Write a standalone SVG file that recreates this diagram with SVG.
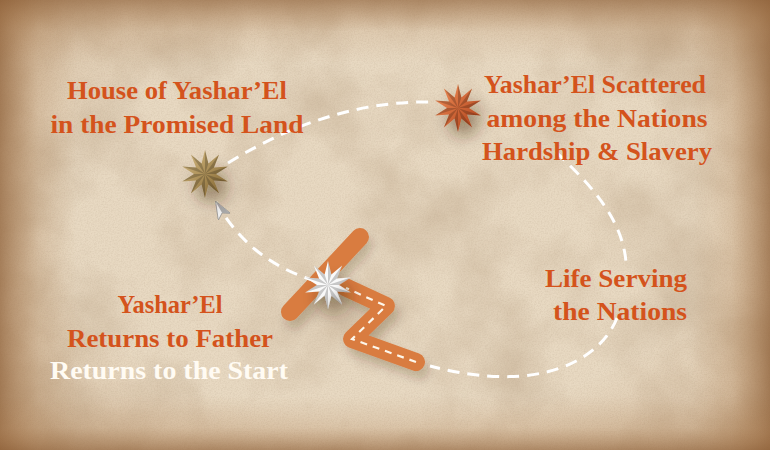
<svg xmlns="http://www.w3.org/2000/svg" xmlns:xlink="http://www.w3.org/1999/xlink" width="770" height="450" viewBox="0 0 770 450">
  <style>
    .lbl { font-family: "Liberation Serif", "DejaVu Serif", serif; font-weight: bold; font-size: 26px; fill: #d4531c; text-anchor: middle; }
    .lbl-w { fill: #fffbf3; }
    .route { fill: none; stroke: #ffffff; stroke-width: 3; stroke-dasharray: 12 8; stroke-linecap: butt; }
    .route-thin { fill: none; stroke: #fdf6ea; stroke-width: 2.2; stroke-dasharray: 7 6; }
    .bar { fill: none; stroke: #d97c40; stroke-width: 18; stroke-linecap: round; stroke-linejoin: round; }
  </style>
  <defs>
    <radialGradient id="vignette" cx="50%" cy="50%" r="72%">
      <stop offset="0.6" stop-color="#a9784a" stop-opacity="0"/>
      <stop offset="1" stop-color="#8a5c33" stop-opacity="0.35"/>
    </radialGradient>
    <linearGradient id="hEdge" x1="0" y1="0" x2="1" y2="0">
      <stop offset="0" stop-color="#8e5f36" stop-opacity="0.7"/>
      <stop offset="0.05" stop-color="#a9784a" stop-opacity="0.2"/>
      <stop offset="0.1" stop-color="#a9784a" stop-opacity="0"/>
      <stop offset="0.9" stop-color="#a9784a" stop-opacity="0"/>
      <stop offset="0.95" stop-color="#a9784a" stop-opacity="0.22"/>
      <stop offset="1" stop-color="#8e5f36" stop-opacity="0.7"/>
    </linearGradient>
    <linearGradient id="vEdge" x1="0" y1="0" x2="0" y2="1">
      <stop offset="0" stop-color="#8e5f36" stop-opacity="0.6"/>
      <stop offset="0.07" stop-color="#a9784a" stop-opacity="0.15"/>
      <stop offset="0.14" stop-color="#a9784a" stop-opacity="0"/>
      <stop offset="0.88" stop-color="#a9784a" stop-opacity="0"/>
      <stop offset="0.95" stop-color="#a9784a" stop-opacity="0.2"/>
      <stop offset="1" stop-color="#8e5f36" stop-opacity="0.6"/>
    </linearGradient>
    <filter id="paperNoise" x="0" y="0" width="100%" height="100%">
      <feTurbulence type="fractalNoise" baseFrequency="0.011" numOctaves="5" seed="7" result="n"/>
      <feColorMatrix in="n" type="matrix" values="0 0 0 0 0.45  0 0 0 0 0.32  0 0 0 0 0.2  0.9 0 0 0 -0.36"/>
    </filter>
    <filter id="paperGrain" x="0" y="0" width="100%" height="100%">
      <feTurbulence type="fractalNoise" baseFrequency="0.7" numOctaves="2" seed="2" result="g"/>
      <feColorMatrix in="g" type="matrix" values="0 0 0 0 0.4  0 0 0 0 0.3  0 0 0 0 0.2  0.6 0 0 0 -0.22"/>
    </filter>
    <filter id="shadow" x="-80%" y="-80%" width="260%" height="260%">
      <feGaussianBlur in="SourceAlpha" stdDeviation="7"/>
      <feOffset dx="6" dy="12" result="b"/>
      <feFlood flood-color="#3a2410" flood-opacity="0.4"/>
      <feComposite in2="b" operator="in" result="s"/>
      <feMerge><feMergeNode in="s"/><feMergeNode in="SourceGraphic"/></feMerge>
    </filter>
    <filter id="barShadow" x="-30%" y="-30%" width="160%" height="160%">
      <feGaussianBlur in="SourceAlpha" stdDeviation="5"/>
      <feOffset dx="4" dy="8" result="b"/>
      <feFlood flood-color="#3a2410" flood-opacity="0.22"/>
      <feComposite in2="b" operator="in" result="s"/>
      <feMerge><feMergeNode in="s"/><feMergeNode in="SourceGraphic"/></feMerge>
    </filter>
    <linearGradient id="gold" x1="0" y1="0" x2="1" y2="1">
      <stop offset="0" stop-color="#d9bf86"/>
      <stop offset="1" stop-color="#7a5c28"/>
    </linearGradient>
    <linearGradient id="rust" x1="0" y1="0" x2="1" y2="1">
      <stop offset="0" stop-color="#f5935c"/>
      <stop offset="1" stop-color="#a83a14"/>
    </linearGradient>
    <linearGradient id="silver" x1="0" y1="0" x2="1" y2="1">
      <stop offset="0" stop-color="#ffffff"/>
      <stop offset="0.6" stop-color="#f8f8f8"/>
      <stop offset="1" stop-color="#a6a6a6"/>
    </linearGradient>
    <g id="star">
      <path d="M0 -24L3.4 -10.46L14.11 -19.42L8.9 -6.47L22.83 -7.42L11 0L22.83 7.42L8.9 6.47L14.11 19.42L3.4 10.46L0 24L-3.4 10.46L-14.11 19.42L-8.9 6.47L-22.83 7.42L-11 0L-22.83 -7.42L-8.9 -6.47L-14.11 -19.42L-3.4 -10.46Z"/>
      <path fill="#000000" fill-opacity="0.2" d="M0 0L0 -24L3.4 -10.46ZM0 0L14.11 -19.42L8.9 -6.47ZM0 0L22.83 -7.42L11 0ZM0 0L22.83 7.42L8.9 6.47ZM0 0L14.11 19.42L3.4 10.46ZM0 0L0 24L-3.4 10.46ZM0 0L-14.11 19.42L-8.9 6.47ZM0 0L-22.83 7.42L-11 0ZM0 0L-22.83 -7.42L-8.9 -6.47ZM0 0L-14.11 -19.42L-3.4 -10.46Z"/>
    </g>
    <marker id="arrow" viewBox="0 0 18 14" refX="17" refY="7" markerWidth="18" markerHeight="14" markerUnits="userSpaceOnUse" orient="auto">
      <path d="M0 0L18 7L0 14L4.5 7Z" fill="#f2f2f2" stroke="#8c8c8c" stroke-width="0.7" stroke-linejoin="round"/>
      <path d="M18 7L0 14L4.5 7Z" fill="#a9a9a9"/>
    </marker>
  </defs>

  <!-- parchment background -->
  <rect x="0" y="0" width="770" height="450" fill="#e8d9c2"/>
  <rect x="0" y="0" width="770" height="450" filter="url(#paperNoise)"/>
  <rect x="0" y="0" width="770" height="450" filter="url(#paperGrain)" opacity="0.6"/>
  <rect x="0" y="0" width="770" height="450" fill="url(#vignette)"/>
  <rect x="0" y="0" width="770" height="450" fill="url(#hEdge)"/>
  <rect x="0" y="0" width="770" height="450" fill="url(#vEdge)"/>

  <!-- orange road under the return star -->
  <g id="road" filter="url(#barShadow)">
    <path class="bar" d="M290 312L360 237"/>
    <path class="bar" d="M345 287L386 306L352 339L416 362"/>
  </g>

  <g id="connectors">
    <path class="route" d="M228 163Q330 100 433 102"/>
    <path class="route" d="M556 152C585 180 622 215 626 262"/>
    <path class="route" d="M617 318C600 360 540 395 430 366"/>
    <path class="route-thin" d="M416 362L352 339L386 306L346 288"/>
    <path class="route" d="M316 281Q250 262 216 202" marker-end="url(#arrow)"/>
  </g>

  <g id="node-land">
    <use href="#star" xlink:href="#star" x="205" y="174" fill="url(#gold)" filter="url(#shadow)"/>
    <text class="lbl" x="177" y="99" textLength="220" lengthAdjust="spacingAndGlyphs">House of Yashar’El</text>
    <text class="lbl" x="177" y="133" textLength="253" lengthAdjust="spacingAndGlyphs">in the Promised Land</text>
  </g>

  <g id="node-scattered">
    <use href="#star" xlink:href="#star" x="458" y="108" fill="url(#rust)" filter="url(#shadow)"/>
    <text class="lbl" x="595" y="93" textLength="222" lengthAdjust="spacingAndGlyphs">Yashar’El Scattered</text>
    <text class="lbl" x="597" y="127" textLength="221" lengthAdjust="spacingAndGlyphs">among the Nations</text>
    <text class="lbl" x="597" y="160" textLength="230" lengthAdjust="spacingAndGlyphs">Hardship &amp; Slavery</text>
  </g>

  <g id="node-serving">
    <text class="lbl" x="616" y="287" textLength="142" lengthAdjust="spacingAndGlyphs">Life Serving</text>
    <text class="lbl" x="620" y="320" textLength="134" lengthAdjust="spacingAndGlyphs">the Nations</text>
  </g>

  <g id="node-return">
    <use href="#star" xlink:href="#star" x="328" y="285" fill="url(#silver)" filter="url(#shadow)"/>
    <text class="lbl" x="170" y="313" textLength="105" lengthAdjust="spacingAndGlyphs">Yashar’El</text>
    <text class="lbl" x="170" y="347" textLength="206" lengthAdjust="spacingAndGlyphs">Returns to Father</text>
    <text class="lbl lbl-w" x="169" y="379" textLength="238" lengthAdjust="spacingAndGlyphs">Returns to the Start</text>
  </g>
</svg>
